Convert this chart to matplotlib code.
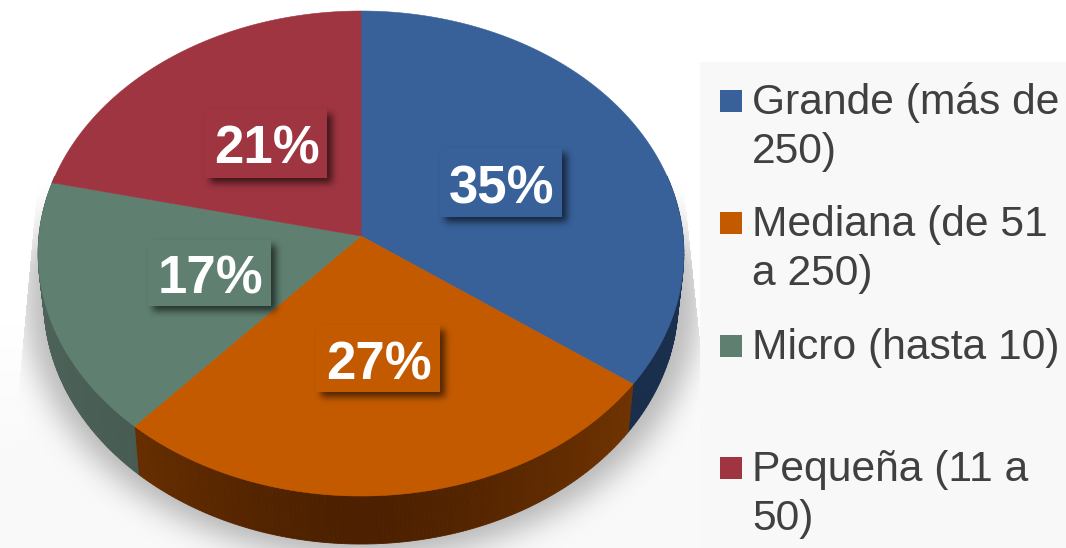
import numpy as np
from matplotlib import pyplot as plt
from matplotlib.patches import Polygon, Rectangle

plt.rcParams['font.family'] = ['Liberation Sans', 'DejaVu Sans']

# data
values = [35, 26.6, 17, 21.4]
pct_labels = ['35%', '27%', '17%', '21%']
legend_lines = [['Grande (más de', '250)'], ['Mediana (de 51', 'a 250)'],
                ['Micro (hasta 10)'], ['Pequeña (11 a', '50)']]
colors = ['#38619a', '#c45a00', '#5f7f70', '#9e3541']
# side colours, (dark, light) per slice
side_dark = ['#152a45', '#4c2000', '#3e544b', '#5a1f26']
side_light = ['#1a2f4d', '#7d3a00', '#4d6258', '#5a1f26']

# layout, in pixels of the 1066x548 picture
W, H = 1066, 548
cx, cy = 361, 236
rx = 322
persp = 0.0722
ry_a = 224.2
depth = 48
bottom_scale = 0.982
# label boxes: x0, y0, x1, y1
boxes = [(440, 148, 562, 217), (316, 325, 440, 392), (148, 240, 271, 306), (205, 109, 327, 178)]
swatch_y = [90, 212, 335, 457]


def project(theta, scale=1.0, shift=0.0, r=1.0):
    # theta clockwise from the top, tilted circle with perspective
    u = r * np.sin(theta)
    v = r * np.cos(theta)
    d = 1 + persp * v
    return cx + scale * rx * u / d, (cy - ry_a * v) / d + shift


def hex_rgb(c):
    return np.array([int(c[i:i + 2], 16) / 255 for i in (1, 3, 5)])


def gauss(mask, sig):
    fy = np.fft.fftfreq(mask.shape[0])[:, None]
    fx = np.fft.rfftfreq(mask.shape[1])[None, :]
    kernel = np.exp(-2 * (np.pi * sig) ** 2 * (fx ** 2 + fy ** 2))
    return np.fft.irfft2(np.fft.rfft2(mask) * kernel, s=mask.shape)


fig = plt.figure(figsize=(W / 100, H / 100), dpi=100)
ax = fig.add_axes([0, 0, 1, 1])
ax.set_xlim(0, W)
ax.set_ylim(H, 0)
ax.axis('off')

edges = np.cumsum([0] + values) / sum(values) * 2 * np.pi

# soft shadow under the pie
yy, xx = np.mgrid[0:H + 80, 0:W]
sx, sy = (xx - 362.0) / 338, (yy - 296.0) / 262
blur = gauss((sx ** 2 + sy ** 2 < 1).astype(float), 15)[:H]
yy, xx = yy[:H], xx[:H]
t = np.clip((yy - 183) / 210, 0, 1)
left = 37 - 19 * t
right = 683 + 22 * t
inside = ((xx > left) & (xx < right)).astype(float) * np.clip((yy - 175) / 90, 0, 1)
haze = 0.025 * np.clip((yy - 300) / 150, 0, 1)
rgba = np.zeros((H, W, 4))
rgba[..., 3] = np.clip(0.27 * blur * inside + haze, 0, 1)
ax.imshow(rgba, extent=(0, W, H, 0), aspect='auto', zorder=1)

# legend panel
ax.add_patch(Rectangle((700, 62), W - 700, H - 62, fc='#f8f8f8', ec='none', zorder=2))

# sides, small strips so the shading can change along the rim
for i in range(len(values)):
    th = np.linspace(edges[i], edges[i + 1], 140)
    for a, b in zip(th[:-1], th[1:]):
        mid = (a + b) / 2
        if np.cos(mid) > 0.25:
            continue
        k = np.clip(abs(np.sin(mid)) ** 1.5, 0, 1)
        c = hex_rgb(side_dark[i]) * (1 - k) + hex_rgb(side_light[i]) * k
        x0, y0 = project(np.array([a, b]))
        x1, y1 = project(np.array([b, a]), bottom_scale, depth)
        pts = np.c_[np.r_[x0, x1], np.r_[y0, y1]]
        ax.add_patch(Polygon(pts, fc=c, ec=c, lw=0.6, zorder=3))

# top face
for i in range(len(values)):
    th = np.linspace(edges[i], edges[i + 1], 200)
    x, y = project(th)
    pts = np.c_[np.r_[cx, x], np.r_[cy, y]]
    ax.add_patch(Polygon(pts, fc=colors[i], ec=colors[i], lw=0.4, zorder=4))

# blurred drop shadow of the label boxes
box_mask = np.zeros((H, W))
for x0, y0, x1, y1 in boxes:
    box_mask[y0 + 5:y1 + 5, x0 + 5:x1 + 5] = 1
box_rgba = np.zeros((H, W, 4))
box_rgba[..., 3] = np.clip(0.6 * gauss(box_mask, 3.5), 0, 1)
ax.imshow(box_rgba, extent=(0, W, H, 0), aspect='auto', zorder=5)
ax.set_xlim(0, W)
ax.set_ylim(H, 0)

# data labels
for i, (x0, y0, x1, y1) in enumerate(boxes):
    ax.add_patch(Rectangle((x0, y0), x1 - x0, y1 - y0, fc=colors[i], ec='none', zorder=6))
    ax.text((x0 + x1) / 2 + 0.5, (y0 + y1) / 2 + 20.5, pct_labels[i], color='white', fontsize=38, fontweight='bold',
            ha='center', va='baseline', zorder=7)

# legend
for i, lines in enumerate(legend_lines):
    ax.add_patch(Rectangle((720, swatch_y[i]), 22, 22, fc=colors[i], ec='none', zorder=6))
    for j, line in enumerate(lines):
        ax.text(752, swatch_y[i] + 24 + 49 * j, line, color='#404040', fontsize=30.7,
                ha='left', va='baseline', zorder=7)

fig.savefig('out.png', dpi=100)
